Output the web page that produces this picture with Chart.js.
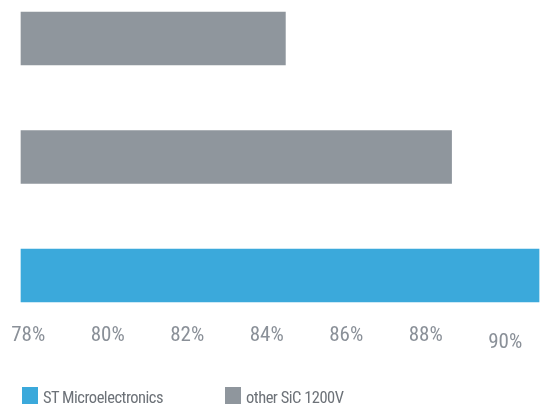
<!DOCTYPE html>
<html>
<head>
<meta charset="utf-8">
<script src="https://cdn.jsdelivr.net/npm/chart.js@4/dist/chart.umd.min.js"></script>
<style>
  html, body { margin: 0; padding: 0; background: #fff; overflow: hidden; }
  #wrap { position: relative; width: 555px; height: 405px; overflow: hidden; }
  #chart { position: absolute; left: 0; top: 0; }
  .legend-item { position: absolute; top: 387px; height: 17px; }
  .legend-box { position: absolute; left: 0; top: 0; width: 16px; height: 16.5px; }
  .legend-text {
    position: absolute; left: 21px; top: 2px; white-space: nowrap;
    font-family: "Roboto Condensed", "Liberation Sans Narrow", "DejaVu Sans Condensed", sans-serif;
    font-size: 16.5px; line-height: 17px; letter-spacing: -0.5px; color: #6d7278;
  }
</style>
</head>
<body>
<div id="wrap">
  <canvas id="chart" width="555" height="410"></canvas>
  <div id="legend"></div>
</div>
<script>
const categories = ['other SiC 1200V A', 'other SiC 1200V B', 'ST Microelectronics'];
const stValues = [null, null, 90.85];
const otherValues = [84.47, 88.65, null];
const tickValues = [78, 80, 82, 84, 86, 88, 90];

const BLUE = '#3ba9db';
const GRAY = '#8f969d';
const AXIS_MIN = 77.82;

// html legend, built from the chart datasets
const htmlLegend = {
  id: 'htmlLegend',
  afterUpdate(chart) {
    const box = document.getElementById('legend');
    box.innerHTML = '';
    chart.data.datasets.forEach((ds, i) => {
      const item = document.createElement('div');
      item.className = 'legend-item';
      item.style.left = (22 + i * 203) + 'px';
      const sq = document.createElement('div');
      sq.className = 'legend-box';
      sq.style.background = ds.backgroundColor;
      const txt = document.createElement('div');
      txt.className = 'legend-text';
      txt.textContent = ds.label;
      item.appendChild(sq);
      item.appendChild(txt);
      box.appendChild(item);
    });
  },
};

new Chart(document.getElementById('chart'), {
  type: 'bar',
  data: {
    labels: categories,
    datasets: [
      {
        label: 'ST Microelectronics',
        data: stValues,
        backgroundColor: BLUE,
        base: AXIS_MIN,
        grouped: false,
        barThickness: 53,
        clip: false,
      },
      {
        label: 'other SiC 1200V',
        data: otherValues,
        backgroundColor: GRAY,
        base: AXIS_MIN,
        grouped: false,
        barThickness: 53,
        clip: false,
      },
    ],
  },
  options: {
    indexAxis: 'y',
    responsive: false,
    animation: false,
    layout: {
      padding: { top: 38.5, left: 21, right: 10, bottom: 0.5 },
    },
    plugins: {
      legend: { display: false },
      tooltip: { enabled: false },
    },
    scales: {
      y: {
        type: 'category',
        offset: false,
        display: false,
        grid: { display: false },
      },
      x: {
        type: 'linear',
        min: AXIS_MIN,
        max: 91,
        border: { display: false },
        grid: { display: false, drawTicks: false },
        afterBuildTicks: (scale) => {
          scale.ticks = tickValues.map((v) => ({ value: v }));
        },
        ticks: {
          padding: 0,
          color: '#8a9098',
          maxRotation: 0,
          autoSkip: false,
          // tall line box puts the labels well below the bars; 90% sits lower
          font: (ctx) => ({
            family: '"Roboto Condensed", "Liberation Sans Narrow", "DejaVu Sans Condensed", sans-serif',
            size: 21,
            lineHeight: ctx.tick && ctx.tick.value === 90 ? '134px' : '120.6px',
          }),
          callback: (v) => v + '%',
        },
      },
    },
  },
  plugins: [htmlLegend],
});
</script>
</body>
</html>
